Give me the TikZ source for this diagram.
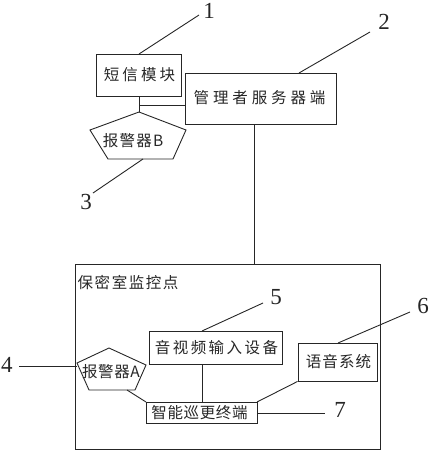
\documentclass[tikz,border=0pt]{standalone}
\usepackage{fontspec}
\newfontfamily\cjk{Noto Sans CJK SC}
\setmainfont{Liberation Serif}
\begin{document}
\begin{tikzpicture}[x=1pt,y=-1pt,
  line/.style={draw=black!85,line width=0.9pt},
  box/.style={line,inner sep=0pt},
  lbl/.style={font=\cjk\fontsize{15.5}{16}\selectfont\addfontfeature{LetterSpace=#1},inner sep=0pt,text=black!85},
  lbl/.default=10,
  num/.style={font=\fontsize{23}{23}\selectfont,inner sep=0pt,text=black!85}]
\useasboundingbox (0,0) rectangle (429,450);
% boxes
\node[box,minimum width=85pt,minimum height=42pt] (sms) at (138.5,75) {};
\node[lbl=20] at (139.5,75) {短信模块};
\node[box,minimum width=151pt,minimum height=51pt] (srv) at (260.5,98.5) {};
\node[lbl=25] at (259.5,98) {管理者服务器端};
% pentagon B
\coordinate (bt) at (139,112);
\coordinate (bl) at (90,130);
\coordinate (br) at (186,130);
\coordinate (bbl) at (108,159);
\coordinate (bbr) at (173,159);
\draw[line] (bt) -- (br) -- (bbr) -- (bbl) -- (bl) -- cycle;
\node[lbl=8] (almB) at (133,141) {报警器B};
% outer box
\node[box,minimum width=305pt,minimum height=185pt] (room) at (227.5,356.5) {};
\node[lbl=10,anchor=west] (roomt) at (77.5,283) {保密室监控点};
\node[box,minimum width=133pt,minimum height=33pt] (av) at (215.5,347.5) {};
\node[lbl=16] at (216.5,347.5) {音视频输入设备};
\node[box,minimum width=79pt,minimum height=38pt] (voice) at (337.5,362) {};
\node[lbl=7] at (338.5,362) {语音系统};
\node[box,minimum width=111pt,minimum height=21pt] (term) at (201.5,412.5) {};
\node[lbl=4] at (199.5,412.5) {智能巡更终端};
% pentagon A
\coordinate (at) at (109,348);
\coordinate (al) at (77,363);
\coordinate (ar) at (146,365);
\coordinate (abl) at (89,390);
\coordinate (abr) at (135,390);
\draw[line] (at) -- (ar) -- (abr) -- (abl) -- (al) -- cycle;
\node[lbl=4] (almA) at (111,372) {报警器A};
% connections
\coordinate (j1) at (139,105);
\draw[line] (sms.south -| j1) -- (bt);
\draw[line] (j1) -- (j1 -| srv.west);
\coordinate (sx) at (254,0);
\draw[line] (sx |- srv.south) -- (sx |- room.north);
\coordinate (avx) at (202,0);
\draw[line] (avx |- av.south) -- (avx |- term.north);
\coordinate (ac) at (127,390);
\draw[line] (ac) -- (146,402);
\draw[line] (voice.south west) -- (257,402);
% numbers
\node[num] (n1) at (209,11) {1};
\node[num] (n2) at (384,22) {2};
\node[num] (n3) at (86,202) {3};
\node[num] (n4) at (7,365) {4};
\node[num] (n5) at (276,297) {5};
\node[num] (n6) at (423,306) {6};
\node[num] (n7) at (340,410) {7};
\draw[line] (139,54) -- (199,15);
\draw[line] (299,73) -- (370,32);
\draw[line] (143,159) -- (93,193);
\draw[line] (19,366) -- (77,366);
\draw[line] (202,331) -- (263,303);
\draw[line] (338,343) -- (410,312);
\draw[line] (257,413) -- (325,413);
\end{tikzpicture}
\end{document}
